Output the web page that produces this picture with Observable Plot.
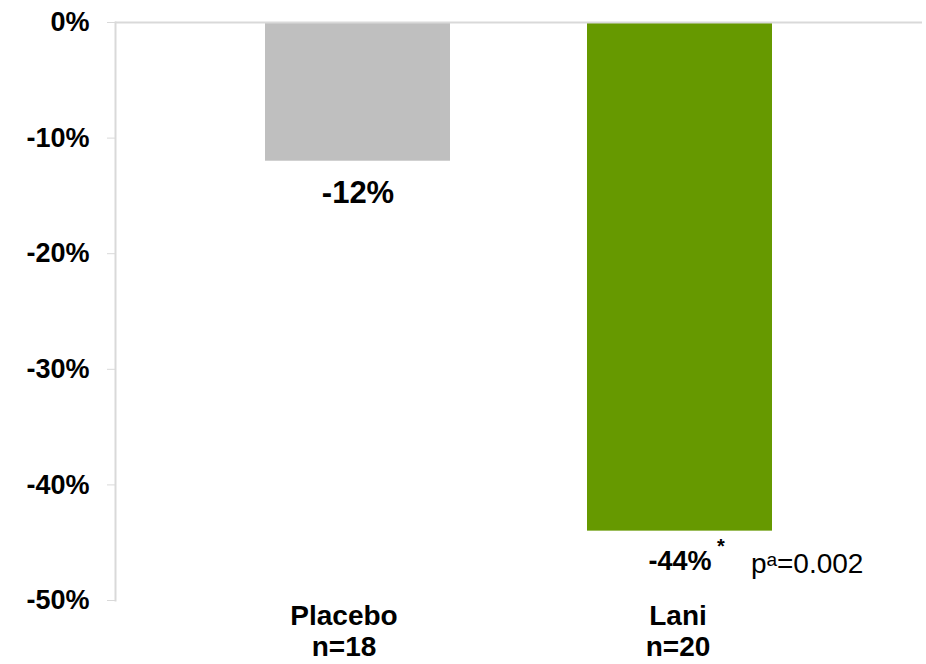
<!DOCTYPE html>
<html>
<head>
<meta charset="utf-8">
<script src="https://cdn.jsdelivr.net/npm/d3@7"></script>
<script src="https://cdn.jsdelivr.net/npm/@observablehq/plot@0.6"></script>
<style>
  html, body { margin: 0; padding: 0; background: #fff; }
  #chart svg { display: block; }
</style>
</head>
<body>
<div id="chart"></div>
<script>
const categories = ["Placebo", "Lani"];
const sampleSizes = ["n=18", "n=20"];
const values = [-12, -44];
const valueLabels = ["-12%", "-44%"];
const barColors = ["#bfbfbf", "#669900"];
const yTicks = [0, -10, -20, -30, -40, -50];
const pValueText = "pᵃ=0.002";

const data = categories.map((c, i) => ({
  group: c, n: sampleSizes[i], value: values[i], label: valueLabels[i], color: barColors[i]
}));
const placebo = data.filter(d => d.group === "Placebo");
const lani = data.filter(d => d.group === "Lani");

const font = "Liberation Sans, Arial, sans-serif";

const chart = Plot.plot({
  width: 926,
  height: 664,
  marginTop: 22,
  marginBottom: 64,
  marginLeft: 115,
  marginRight: 4,
  style: { fontFamily: font, background: "#fff", color: "#000" },
  x: { domain: categories, paddingInner: 0.427, paddingOuter: 0.464, axis: null },
  y: { domain: [-50, 0], axis: null },
  marks: [
    Plot.barY(data, { x: "group", y: "value", fill: "color" }),
    Plot.ruleY([0], { stroke: "#d9d9d9", strokeWidth: 2 }),
    Plot.frame({ anchor: "left", stroke: "#d9d9d9", strokeWidth: 2 }),
    Plot.axisY({
      ticks: yTicks, tickSize: 8, tickPadding: 18,
      tickFormat: d => d + "%",
      stroke: "#d9d9d9", fill: "#000",
      fontSize: 27, fontWeight: "bold", label: null
    }),
    Plot.text(placebo, {
      x: "group", y: "value", text: "label",
      lineAnchor: "top", dy: 20, fontSize: 31, fontWeight: "bold", fill: "#000"
    }),
    Plot.text(lani, {
      x: "group", y: "value", text: "label",
      lineAnchor: "top", dy: 20, fontSize: 27, fontWeight: "bold", fill: "#000"
    }),
    Plot.text(lani, {
      x: "group", y: "value", text: () => "*",
      dx: 41, dy: 8, lineAnchor: "top", fontSize: 20, fontWeight: "bold", fill: "#000"
    }),
    Plot.text(lani, {
      x: "group", y: "value", text: () => pValueText,
      textAnchor: "start", dx: 71, dy: 22, lineAnchor: "top", fontSize: 28, fill: "#000"
    }),
    Plot.text(placebo, {
      x: "group", y: -50, text: d => d.group + "\n" + d.n,
      dx: -14, lineAnchor: "top", dy: 2, lineHeight: 1.12,
      fontSize: 28, fontWeight: "bold", fill: "#000"
    }),
    Plot.text(lani, {
      x: "group", y: -50, text: d => d.group + "\n" + d.n,
      dx: -2, lineAnchor: "top", dy: 2, lineHeight: 1.12,
      fontSize: 28, fontWeight: "bold", fill: "#000"
    })
  ]
});
document.getElementById("chart").append(chart);
</script>
</body>
</html>
